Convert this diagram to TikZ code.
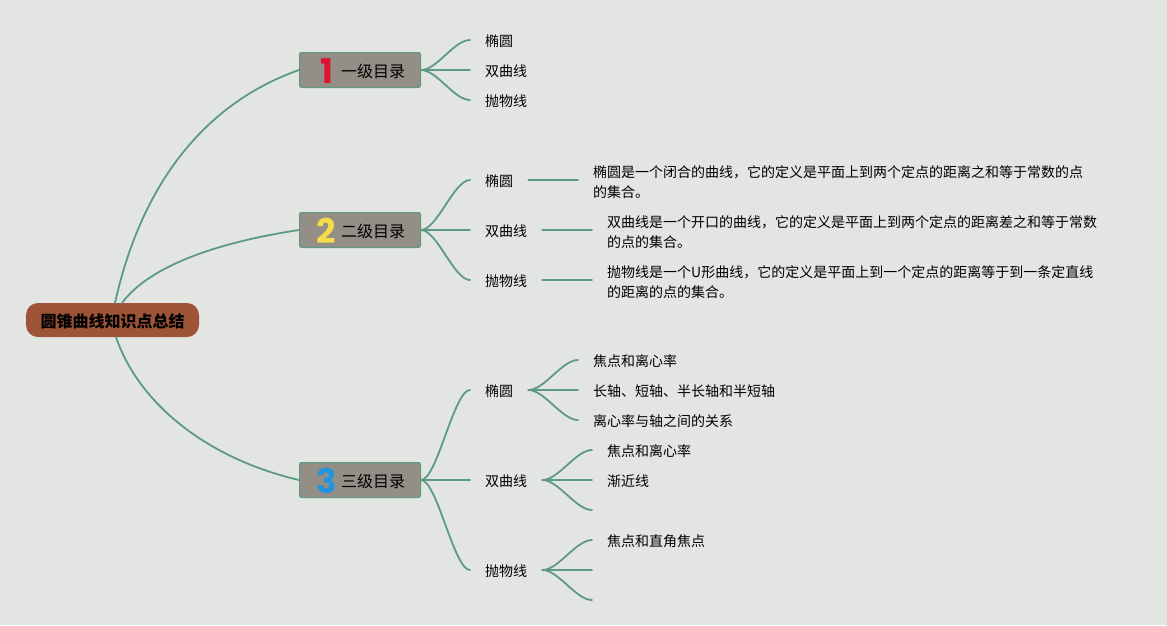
\documentclass[tikz,border=0pt]{standalone}
\usepackage{fontspec}
\setmainfont{Noto Sans CJK SC}
\newfontfamily\numfont{Poppins}[BoldFont={Poppins Bold}]
\usepackage{xcolor}
\usetikzlibrary{positioning,arrows.meta}

\definecolor{pagebg}{HTML}{E3E5E2}
\definecolor{rootfill}{HTML}{9E5437}
\definecolor{boxfill}{HTML}{938E86}
\definecolor{branchline}{HTML}{5C9A86}
\definecolor{numred}{HTML}{DC1430}
\definecolor{numyellow}{HTML}{F5DC4B}
\definecolor{numblue}{HTML}{2196DE}

\tikzset{
	rootnode/.style={fill=rootfill,rounded corners=12pt,minimum width=173pt,minimum height=34pt,inner sep=0pt,text height=15.5pt,text depth=1.5pt,font=\fontsize{16}{16}\selectfont\bfseries},
	lvlnode/.style={draw=branchline,line width=1pt,fill=boxfill,rounded corners=2pt,minimum height=35pt,text width=90pt,inner xsep=15.5pt,inner ysep=0pt,align=right,text height=15.5pt,text depth=1.5pt,font=\fontsize{16}{16}\selectfont},
	topic/.style={anchor=west,inner xsep=15pt,inner ysep=0pt,text height=14pt,text depth=1.4pt,font=\fontsize{14}{14}\selectfont},
	leaf/.style={anchor=west,inner xsep=15pt,inner ysep=0pt,align=left,font=\fontsize{14}{20}\selectfont},
	oneline/.style={text height=14pt,text depth=1.4pt},
	branch/.style={draw=branchline,line width=1.8pt,line cap=round},
	sbend/.style={out=0,in=180,distance=16pt},
}
\newcommand{\lvlnum}[2]{\llap{\makebox[20pt][c]{\raisebox{-6pt}[0pt][0pt]{\numfont\bfseries\fontsize{34}{34}\selectfont\textcolor{#1}{#2}}}\hspace{4.5pt}}}

\begin{document}
\begin{tikzpicture}[x=1pt,y=-1pt]
	
	\fill[pagebg] (0,0) rectangle (1167,625);
	\useasboundingbox (0,0) rectangle (1167,625);
	
	\node[rootnode] (root) at (112.5,320) {圆锥曲线知识点总结};
	\coordinate (rootA) at (115,303);
	\coordinate (rootB) at (122,303);
	\coordinate (rootC) at (116,337);
	
	\node[lvlnode] (lvlA) at (360,70) {\lvlnum{numred}{1}一级目录};
	\node[lvlnode] (lvlB) at (360,230) {\lvlnum{numyellow}{2}二级目录};
	\node[lvlnode] (lvlC) at (360,480) {\lvlnum{numblue}{3}三级目录};
	
	\draw[branch] (rootA) .. controls (140,190) and (200,105) .. (lvlA.west);
	\draw[branch] (rootB) .. controls (150,265) and (220,242) .. (lvlB.west);
	\draw[branch] (rootC) .. controls (138,402) and (205,458) .. (lvlC.west);
	
	% first group
	\node[topic] (ellA) at (470,40) {椭圆};
	\node[topic] (hypA) at (470,70) {双曲线};
	\node[topic] (parA) at (470,100) {抛物线};
	\draw[branch] (lvlA.east) to[sbend] (ellA.west);
	\draw[branch] (lvlA.east) -- (hypA.west);
	\draw[branch] (lvlA.east) to[sbend] (parA.west);
	
	% second group
	\node[topic] (ellB) at (470,180) {椭圆};
	\node[topic] (hypB) at (470,230) {双曲线};
	\node[topic] (parB) at (470,280) {抛物线};
	\draw[branch] (lvlB.east) to[sbend] (ellB.west);
	\draw[branch] (lvlB.east) -- (hypB.west);
	\draw[branch] (lvlB.east) to[sbend] (parB.west);
	
	\node[leaf] (ellBtext) at (578,182) {椭圆是一个闭合的曲线，它的定义是平面上到两个定点的距离之和等于常数的点\\的集合。};
	\node[leaf] (hypBtext) at (592,232) {双曲线是一个开口的曲线，它的定义是平面上到两个定点的距离差之和等于常数\\的点的集合。};
	\node[leaf] (parBtext) at (592,282) {抛物线是一个U形曲线，它的定义是平面上到一个定点的距离等于到一条定直线\\的距离的点的集合。};
	\coordinate (ellBend) at (ellBtext.west |- ellB.east);
	\coordinate (hypBend) at (hypBtext.west |- hypB.east);
	\coordinate (parBend) at (parBtext.west |- parB.east);
	\draw[branch] (ellB.east) -- (ellBend);
	\draw[branch] (hypB.east) -- (hypBend);
	\draw[branch] (parB.east) -- (parBend);
	
	% third group
	\node[topic] (ellC) at (470,390) {椭圆};
	\node[topic] (hypC) at (470,480) {双曲线};
	\node[topic] (parC) at (470,570) {抛物线};
	\draw[branch] (lvlC.east) to[sbend] (ellC.west);
	\draw[branch] (lvlC.east) -- (hypC.west);
	\draw[branch] (lvlC.east) to[sbend] (parC.west);
	
	\node[leaf,oneline] (ellCa) at (578,360) {焦点和离心率};
	\node[leaf,oneline] (ellCb) at (578,390) {长轴、短轴、半长轴和半短轴};
	\node[leaf,oneline] (ellCc) at (578,420) {离心率与轴之间的关系};
	\draw[branch] (ellC.east) to[sbend] (ellCa.west);
	\draw[branch] (ellC.east) -- (ellCb.west);
	\draw[branch] (ellC.east) to[sbend] (ellCc.west);
	
	\node[leaf,oneline] (hypCa) at (592,450) {焦点和离心率};
	\node[leaf,oneline] (hypCb) at (592,480) {渐近线};
	\coordinate (hypCc) at (592,510);
	\draw[branch] (hypC.east) to[sbend] (hypCa.west);
	\draw[branch] (hypC.east) -- (hypCb.west);
	\draw[branch] (hypC.east) to[sbend] (hypCc);
	
	\node[leaf,oneline] (parCa) at (592,540) {焦点和直角焦点};
	\coordinate (parCb) at (592,570);
	\coordinate (parCc) at (592,600);
	\draw[branch] (parC.east) to[sbend] (parCa.west);
	\draw[branch] (parC.east) -- (parCb);
	\draw[branch] (parC.east) to[sbend] (parCc);
	
\end{tikzpicture}
\end{document}
